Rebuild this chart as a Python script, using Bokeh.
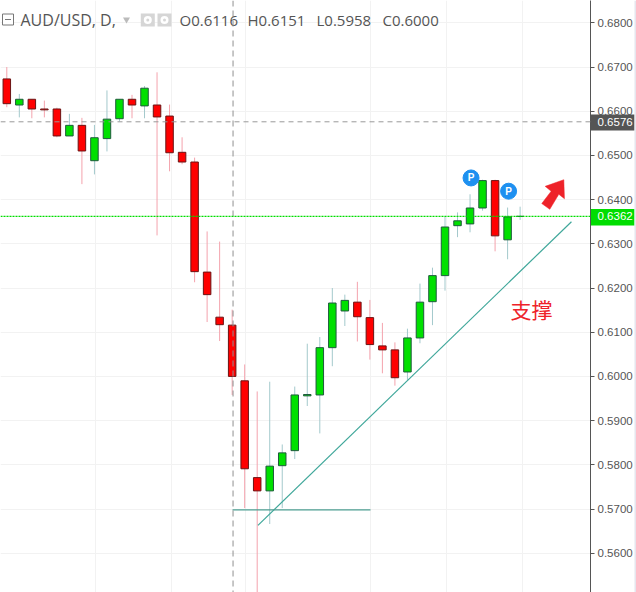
import numpy as np
from bokeh.plotting import figure
from bokeh.embed import file_html
from bokeh.resources import INLINE
from bokeh.core.properties import value
from bokeh.models import Range1d, FixedTicker, Grid, Span, NumeralTickFormatter

opens  = [0.6673,0.6614,0.6627,0.6605,0.6605,0.6544,0.6568,0.6488,0.6538,0.6583,0.6627,0.6612,0.6614,0.6589,0.6507,0.6485,0.6236,0.6134,0.6116,0.5990,0.5771,0.5741,0.5798,0.5832,0.5956,0.5958,0.6065,0.6148,0.6168,0.6133,0.6069,0.6060,0.6010,0.6087,0.6169,0.6228,0.6341,0.6345,0.6381,0.6443,0.6309,0.6362]
closes = [0.6617,0.6627,0.6605,0.6603,0.6544,0.6568,0.6510,0.6540,0.6582,0.6627,0.6614,0.6652,0.6587,0.6506,0.6485,0.6237,0.6185,0.6117,0.6000,0.5791,0.5741,0.5797,0.5827,0.5958,0.5959,0.6065,0.6166,0.6172,0.6135,0.6072,0.6060,0.5997,0.6087,0.6168,0.6228,0.6338,0.6352,0.6381,0.6443,0.6318,0.6361,0.6362]
highs  = [0.6700,0.6639,0.6627,0.6624,0.6608,0.6594,0.6585,0.6569,0.6647,0.6627,0.6637,0.6657,0.6688,0.6615,0.6541,0.6495,0.6328,0.6305,0.6151,0.6027,0.5966,0.5988,0.5846,0.5977,0.6074,0.6089,0.6200,0.6185,0.6214,0.6173,0.6121,0.6077,0.6108,0.6210,0.6246,0.6363,0.6371,0.6412,0.6445,0.6445,0.6382,0.6384]
lows   = [0.6609,0.6586,0.6584,0.6586,0.6541,0.6544,0.6435,0.6457,0.6509,0.6577,0.6584,0.6584,0.6319,0.6464,0.6480,0.6213,0.6123,0.6080,0.5958,0.5702,0.5500,0.5666,0.5702,0.5813,0.5933,0.5871,0.6023,0.6114,0.6079,0.6038,0.6007,0.5979,0.5992,0.6075,0.6116,0.6194,0.6315,0.6326,0.6375,0.6283,0.6265,0.6354]

y_ticks = [0.56,0.57,0.58,0.59,0.60,0.61,0.62,0.63,0.64,0.65,0.66,0.67,0.68]
v_grid = [7.06,13.13,19.09,29.07,35.14,41.17]
cross_price, last_price = 0.6576, 0.6362
cross_x = 18.07
trend_x, trend_y = [20.06,45.1], [0.5663,0.6350]
flat_x, flat_y = [18.03,29.05], [0.5698,0.5698]
pivot_x, pivot_y = [37.08,40.08], [0.6449,0.6419]
arrow_x = [43.0,44.49,44.54,44.09,43.37,42.73,43.48]
arrow_y = [0.6430,0.6445,0.6402,0.6412,0.6378,0.6391,0.6419]
header = [("O0.6116",179),("H0.6151",247),("L0.5958",316),("C0.6000",382)]

X = lambda px: (px-6.3)/12.52
Y = lambda py: 0.67-(py-66.5)/4420

p = figure(width=636, height=592, output_backend="svg", toolbar_location=None,
           x_range=Range1d(X(0),X(590)), y_range=Range1d(Y(592),Y(0)),
           x_axis_location=None, y_axis_location="right",
           min_border_left=0, min_border_top=0, min_border_bottom=0, min_border_right=46,
           outline_line_color=None)
p.styles = {"position":"absolute","left":"0px","top":"0px"}
p.grid.visible = False
ax = p.yaxis[0]
ax.ticker = FixedTicker(ticks=y_ticks)
ax.formatter = NumeralTickFormatter(format="0.0000")
ax.axis_line_color = "#555555"
ax.major_tick_line_color = "#555555"
ax.major_tick_in = 0
ax.major_tick_out = 4
ax.minor_tick_line_color = None
ax.major_label_standoff = 3
ax.major_label_text_font = "Liberation Sans"
ax.major_label_text_font_size = "11.5px"
ax.major_label_text_color = "#555555"

p.add_layout(Grid(dimension=0, ticker=FixedTicker(ticks=v_grid), grid_line_color="#f2f2f2", grid_line_width=1))
p.add_layout(Grid(dimension=1, ticker=FixedTicker(ticks=y_ticks), grid_line_color="#f2f2f2", grid_line_width=1))

o,c,h,l = map(np.array,(opens,closes,highs,lows))
x = np.arange(len(o))
# an up candle closes at or above its open
up = c >= o
p.segment(x[~up],h[~up],x[~up],l[~up],line_color="#f4a3ad",line_width=1)
p.segment(x[up],h[up],x[up],l[up],line_color="#a3c9cc",line_width=1)
bw = 7.5/12.52
p.vbar(x[~up],bw,o[~up],c[~up],fill_color="#ff0000",line_color="#6a1414",line_width=1)
p.vbar(x[up],bw,o[up],c[up],fill_color="#00e000",line_color="#1e5a3c",line_width=1)

p.add_layout(Span(location=cross_price,dimension="width",line_color="#999999",line_dash="5 4",line_width=1))
p.add_layout(Span(location=cross_x,dimension="height",line_color="#8f8f8f",line_dash="6 4",line_width=1))
p.add_layout(Span(location=last_price,dimension="width",line_color="#00dd00",line_dash="2 1",line_width=1.2))

p.line(trend_x,trend_y,line_color="#3fa79a",line_width=1.2)
p.line(flat_x,flat_y,line_color="#4d9e92",line_width=1.2)
p.patch(arrow_x,arrow_y,fill_color="#ee2229",line_color="#ee2229",line_width=0.5)

p.scatter(pivot_x,pivot_y,size=16,fill_color="#1e90f0",line_color="#1e90f0")
p.text(pivot_x,pivot_y,text=["P","P"],text_color="#ffffff",text_font=value("Liberation Sans"),text_font_style="bold",
       text_font_size="10px",text_align="center",text_baseline="middle")

p.text([X(531)],[Y(308)],text=["支撑"],text_color="#ee2229",text_font=value("Noto Sans CJK SC"),text_font_size="21px",
       text_align="center",text_baseline="middle")

# header
p.rect([X(7.5)],[Y(19)],width=11/12.52,height=11/4420,fill_color="#ffffff",line_color="#777777")
p.segment([X(4.5)],[Y(19)],[X(10.5)],[Y(19)],line_color="#777777")
p.text([X(20)],[Y(19.5)],text=["AUD/USD, D,"],text_color="#555555",text_font=value("Open Sans"),text_font_size="16px",text_baseline="middle")
p.scatter([X(126)],[Y(19)],marker="inverted_triangle",size=7,fill_color="#bbbbbb",line_color=None)
p.rect([X(147.3),X(164)],[Y(19.5)]*2,width=14/12.52,height=13/4420,fill_color="#d6d6d6",line_color=None)
p.scatter([X(147.3),X(164)],[Y(19.5)]*2,size=8,fill_color="#ffffff",line_color=None)
p.scatter([X(147.3),X(164)],[Y(19.5)]*2,size=3,fill_color="#d6d6d6",line_color=None)
p.text([X(v[1]) for v in header],[Y(19.5)]*4,text=[v[0] for v in header],text_color="#555555",
       text_font=value("Open Sans"),text_font_size="15px",text_baseline="middle")

# price tags sit over the axis: a transparent figure aligned with the axis strip, same y scale
tags = figure(width=46, height=592, output_backend="svg", toolbar_location=None,
              x_range=Range1d(590,636), y_range=p.y_range, x_axis_location=None, y_axis_location=None,
              min_border=0, outline_line_color=None, background_fill_alpha=0, border_fill_alpha=0)
tags.styles = {"position":"absolute","left":"590px","top":"0px"}
tags.grid.visible = False
tag_prices = [cross_price,last_price]
tags.quad(left=[590.5,590.5],right=[634,634],top=[Y(114),Y(208.5)],bottom=[Y(130),Y(225)],
          fill_color=["#555555","#00dd00"],line_color=None)
tags.text([597,597],tag_prices,text=[f"{v:.4f}" for v in tag_prices],text_color="#ffffff",
          text_font=value("Liberation Sans"),text_font_size="11.5px",text_baseline="middle")
tags.quad(left=[634],right=[636],top=[Y(0)],bottom=[Y(592)],fill_color="#e6e6ee",line_color=None)

open("out.html","w").write(file_html([p,tags],INLINE))
